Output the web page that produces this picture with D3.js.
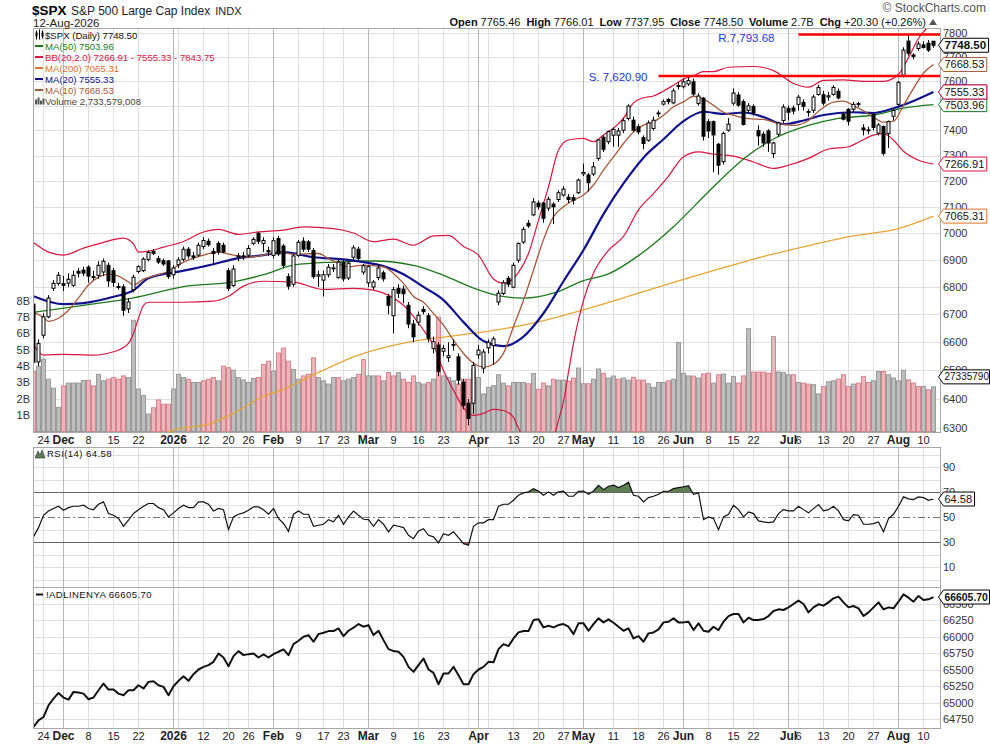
<!DOCTYPE html>
<html lang="en">
<head>
<meta charset="utf-8">
<title>$SPX Daily</title>
<script src="https://cdn.jsdelivr.net/npm/d3@7"></script>
<style>
  body { margin: 0; background: #fff; }
  svg { display: block; font-family: "Liberation Sans", Arial, sans-serif; }
  .vgrid { stroke: #e0e0e0; shape-rendering: crispEdges; }
  .vgrid.month { stroke: #b8b8b8; }
  .hgrid { stroke: #e0e0e0; shape-rendering: crispEdges; }
  .frame { fill: none; stroke: #a8a8a8; shape-rendering: crispEdges; }
  .axis-r { font-size: 11px; fill: #333; }
  .xlab { font-size: 11px; fill: #222; text-anchor: middle; }
  .xlab.bold { font-weight: bold; font-size: 12px; }
  .legend { font-size: 9.6px; }
</style>
</head>
<body>
<div id="chart"></div>
<script>
const W = 990, H = 744;

// trading calendar
const firstDay = "2025-11-20", lastDay = "2026-08-12";
const holidays = ["2025-11-27","2025-12-25","2026-01-01","2026-01-19","2026-02-16",
                  "2026-04-03","2026-05-25","2026-06-19","2026-07-03"];
const dates = [];
for (let d = new Date(firstDay + "T00:00:00Z"); d <= new Date(lastDay + "T00:00:00Z"); d.setUTCDate(d.getUTCDate() + 1)) {
  const s = d.toISOString().slice(0, 10), wd = d.getUTCDay();
  if (wd > 0 && wd < 6 && !holidays.includes(s)) dates.push(s);
}

const open = [6737,6530,6625,6691,6795,6813,6812,6814,6806,6858, 6862,6873,6838,6843,6855,6880,6860,6802,6800,6720,
  6790,6857,6860,6902,6932,6905,6897,6896,6845,6882, 6902,6940,6915,6918,6950,6970,6932,6962,6955,6860,
  6805,6912,6915,6918,6962,7000,6962,6935,6917,6980, 6952,6838,6810,6917,6970,6968,6935,6840,6825,6845,
  6870,6835,6890,6833,6910,6940,6855,6815,6800,6835, 6852,6765,6695,6795,6792,6733,6665,6672,6718,6695,
  6578,6590,6568,6545,6592,6548,6459,6386,6386,6555, 6508,6580,6588,6745,6776,6832,6799,6899,6967,7038,
  7070,7115,7115,7096,7111,7129,7146,7138,7136,7155, 7228,7224,7228,7289,7373,7355,7381,7381,7401,7448,
  7441,7415,7371,7361,7408,7470,7506,7525,7511,7582, 7577,7588,7597,7509,7530,7435,7435,7345,7276,7401,
  7510,7543,7516,7481,7497,7400,7385,7398,7308,7385, 7440,7489,7490,7505,7513,7476,7481,7545,7544,7535,
  7545,7558,7465,7485,7485,7506,7410,7400,7463,7389, 7416,7388,7457,7505,7624,7766,7708,7735,7750,7757,
  7765.46];
const high = [6766,6610,6704,6770,6825,6855,6840,6850,6860,6870, 6875,6880,6860,6895,6905,6890,6870,6815,6810,6760,
  6845,6880,6910,6935,6940,6915,6905,6900,6880,6910, 6950,6948,6930,6965,6985,6980,6945,6970,6965,6870,
  6880,6925,6930,6955,6985,7005,6985,6950,6985,6990, 6960,6850,6920,6975,6985,6975,6945,6860,6860,6885,
  6885,6900,6900,6895,6955,6950,6885,6880,6825,6880, 6860,6775,6800,6810,6805,6745,6680,6710,6730,6705,
  6620,6600,6590,6600,6610,6560,6470,6400,6530,6590, 6575,6610,6620,6788,6825,6840,6890,6965,7025,7050,
  7135,7125,7120,7140,7118,7165,7180,7150,7148,7210, 7268,7232,7275,7365,7380,7400,7412,7410,7450,7505,
  7455,7425,7380,7440,7455,7480,7525,7530,7570,7595, 7610,7615,7610,7550,7535,7445,7440,7350,7395,7450,
  7570,7555,7525,7510,7505,7420,7395,7405,7355,7435, 7505,7500,7500,7543,7525,7485,7545,7585,7560,7555,
  7583,7570,7475,7490,7515,7515,7425,7415,7470,7430, 7420,7440,7490,7600,7740,7792,7715,7765,7765,7770,
  7766.01];
const low = [6522,6515,6614,6686,6785,6805,6785,6800,6800,6835, 6840,6815,6825,6830,6840,6800,6800,6790,6695,6705,
  6780,6850,6855,6895,6918,6885,6878,6830,6830,6870, 6895,6905,6900,6912,6940,6950,6885,6920,6925,6785,
  6800,6895,6900,6910,6955,6960,6930,6915,6905,6915, 6870,6790,6800,6910,6930,6930,6830,6800,6765,6835,
  6855,6830,6820,6825,6900,6895,6845,6800,6790,6825, 6820,6700,6632,6760,6740,6650,6600,6660,6700,6600,
  6560,6480,6550,6530,6570,6450,6365,6310,6350,6540, 6490,6560,6520,6733,6770,6800,6795,6890,6960,7020,
  7065,7090,7040,7085,7035,7120,7140,7115,7110,7150, 7220,7160,7220,7280,7315,7345,7335,7335,7390,7440,
  7395,7385,7325,7355,7400,7455,7500,7505,7505,7565, 7570,7580,7540,7500,7360,7370,7235,7225,7265,7395,
  7500,7495,7420,7470,7460,7340,7335,7315,7290,7375, 7430,7440,7465,7480,7480,7455,7470,7540,7500,7520,
  7540,7525,7440,7420,7475,7495,7380,7385,7400,7380, 7300,7330,7440,7500,7615,7705,7690,7725,7735,7720,
  7737.95];
const close = [6529,6595,6691,6759,6813,6843,6806,6828,6843,6851, 6851,6840,6836,6880,6895,6822,6816,6798,6715,6745,
  6836,6875,6903,6928,6924,6892,6885,6838,6870,6900, 6940,6915,6910,6955,6973,6957,6924,6930,6930,6795,
  6866,6915,6912,6943,6977,6970,6973,6930,6972,6922, 6880,6803,6915,6966,6940,6940,6838,6845,6845,6873,
  6868,6892,6830,6888,6945,6905,6878,6875,6818,6870, 6830,6733,6790,6777,6775,6665,6619,6697,6710,6614,
  6602,6497,6578,6552,6590,6466,6379,6334,6518,6572, 6565,6600,6612,6777,6815,6810,6880,6962,7015,7028,
  7120,7101,7057,7130,7101,7155,7169,7129,7126,7204, 7234,7194,7256,7362,7325,7395,7404,7398,7439,7498,
  7401,7394,7348,7430,7441,7468,7516,7516,7560,7578, 7597,7602,7547,7539,7377,7398,7382,7262,7388,7425,
  7551,7502,7424,7499,7470,7378,7350,7350,7350,7430, 7494,7473,7478,7534,7497,7474,7535,7574,7510,7540,
  7574,7531,7445,7437,7505,7508,7402,7402,7412,7422, 7309,7435,7480,7595,7728,7715,7702,7754,7739,7728.20,
  7748.50];

// volume in billions of shares, and bar colour (r = down day, g = up day)
const volume = [3.67,3.98,4.43,3.2,2.65,1.48,2.79,2.96,2.96,2.96, 3.12,3.12,2.79,3.5,3.1,3.2,3.3,3.2,3.4,3.3,
  6.8,2.6,2.2,1.07,1.45,1.93,1.67,1.67,2.6,3.5, 3.3,3.2,3.0,3.0,3.1,3.2,3.3,3.1,4.0,3.9,
  3.75,3.3,3.15,3.0,3.25,3.3,4.1,4.3,3.7,4.8, 5.1,4.3,3.8,3.2,3.4,3.5,4.5,3.3,3.1,2.9,
  3.3,3.3,3.1,3.2,3.3,3.5,4.4,3.4,3.4,3.4, 3.1,3.6,3.4,3.6,3.2,3.0,3.4,3.0,2.9,3.0,
  3.2,7.0,3.4,3.3,3.1,2.9,3.2,3.2,3.8,3.3, 2.3,2.7,2.8,3.47,2.96,2.79,3.0,3.0,3.0,2.92,
  3.54,2.58,2.96,2.79,3.2,3.14,3.14,3.08,3.27,3.88, 2.92,2.92,3.2,3.82,3.56,3.27,3.39,3.2,3.27,3.14,
  3.31,3.14,3.14,2.92,2.7,3.0,3.0,3.1,3.2,5.44, 3.56,3.4,3.39,3.27,3.52,3.57,2.96,3.47,3.51,2.96,
  3.37,2.96,3.4,6.29,3.63,3.63,3.63,3.57,5.8,3.65, 3.6,3.47,3.47,3.0,2.96,2.9,2.86,2.3,2.75,3.04,
  3.1,3.2,3.47,2.75,2.9,2.96,3.37,3.0,3.1,3.67, 3.67,3.47,3.27,3.1,3.75,3.16,2.96,2.75,2.75,2.55,
  2.73];
const volColor = ("rgggggrggg" + "grrggrrrrg" + "ggggrrrrgg" + "grggrrrgrr" + "gggggrrrgr" +
  "rrggrrrggg" + "grgggrrggr" + "grrgrrrggr" + "grgggrrrgg" + "gggggrgggr" +
  "grrgrggrrg" + "grggrggrgg" + "rrrggggrgg" + "ggrgrrgrgg" + "grrgrrrrrg" +
  "ggrgrrggrg" + "grrrgrrrgg" + "rggggrrrgr" + "g").split("");
const lastVolume = 2733579008;

const rsi = [34.3,41.7,51.6,55,57,58.8,55.6,57.7,58.8,58.8, 59.6,57,56,60.4,62.3,53,51.6,49,42.8,47.6,
  53,56,58.8,61,61,57.7,56,50.3,53.5,57, 59.6,57.7,57.7,62.3,62.3,60.4,55,57,56,40.1,
  50.3,52.4,53.5,55.6,58.3,58.3,56,52.4,57,49, 45,38.8,52.4,55,52.4,52.4,42.8,43.6,44.4,48.1,
  46.3,51.6,44.4,50.3,55,51.6,48.4,48.1,42.8,48.1, 44.4,38.3,43.6,42.8,41.7,35.6,32.9,39.1,40.9,35.6,
  34.3,29.5,36.9,35.6,38.3,33.7,28.9,27.6,42.8,45.5, 45.5,48.1,48.1,58.8,60.4,60.4,63.6,67.6,69.5,70.3,
  72.9,71,67.6,70.3,67.6,70.3,70.8,66.8,66.8,70.8, 71,68.4,71,75.6,72.1,74.8,75.6,73.7,75.6,78,
  67.6,66.8,62.3,65.7,66.8,68.4,70.8,70.8,72.9,73.7, 74.3,75.3,68.4,69.5,48.1,50.3,48.9,40.1,50.3,52.4,
  59.6,56.1,50.3,54.3,52.9,47.1,46.3,45.7,46.3,52.9, 56.1,55.1,55.1,58.8,56.1,53.5,56.9,60.1,55.1,56.1,
  58.8,55.1,48.1,47.1,52.1,51.6,44.4,44.4,44.9,46.3, 38.3,48.9,52.4,58.8,66.3,64.7,64.1,66.3,65.7,63.6,
  64.58];

const adl = [64633,64735,64785,64963,65064,65150,65080,65049,65166,65156, 65140,65054,65080,65191,65293,65201,65201,65140,65115,65191,
  65191,65267,65217,65318,65328,65267,65242,65115,65252,65333, 65404,65333,65435,65506,65546,65572,65622,65749,65688,65556,
  65709,65785,65724,65739,65749,65688,65734,65688,65739,65775, 65810,65724,65891,65942,66003,66028,65927,66043,66064,66089,
  66089,66130,66013,66094,66140,66196,66155,66180,66028,66094, 65952,65815,65785,65775,65698,65546,65470,65572,65673,65506,
  65455,65282,65445,65445,65546,65419,65282,65282,65435,65506, 65546,65622,65615,65815,65891,65861,65977,66069,66089,66089,
  66256,66267,66145,66170,66145,66180,66196,66155,66043,66206, 66206,66094,66196,66282,66221,66267,66216,66155,66094,66130,
  65977,66013,65927,66054,66069,66114,66221,66231,66282,66221, 66221,66231,66104,66206,66094,66079,66155,66104,66231,66317,
  66348,66348,66221,66292,66256,66256,66272,66317,66393,66419, 66409,66449,66500,66551,66500,66373,66449,66495,66475,66525,
  66586,66612,66525,66449,66470,66434,66317,66373,66449,66525, 66419,66449,66434,66535,66647,66596,66535,66622,66561,66571,
  66605.70];

// overlays read at [trading-day index, value]
const ma10 = [[0,6707],[2,6689],[3,6675],[5,6686],[7,6715],[9,6760],[11,6807],[13,6836],[15,6847],[17,6840],[19,6818],[20,6807],
  [22,6829],[24,6840],[27,6858],[30,6892],[34,6918],[37,6929],[40,6918],[43,6910],[46,6918],[49,6929],[52,6921],[57,6924],
  [59,6905],[61,6887],[63,6874],[66,6881],[70,6874],[72,6850],[74,6813],[76,6765],[78,6744],[80,6703],[82,6661],[84,6607],
  [86,6560],[88,6526],[90,6512],[92,6522],[94,6561],[96,6656],[98,6751],[100,6862],[102,6976],[104,7063],[106,7101],[108,7127],
  [110,7146],[112,7185],[114,7243],[116,7295],[118,7348],[120,7394],[122,7421],[124,7434],[126,7461],[128,7495],[130,7515],
  [132,7538],[134,7526],[136,7501],[138,7473],[140,7461],[143,7447],[146,7444],[149,7427],[152,7420],[155,7440],[157,7477],
  [160,7514],[162,7518],[164,7500],[166,7479],[168,7453],[170,7433],[172,7437],[174,7501],[176,7570],[178,7633],[180,7668.53]];
const ma20 = [[0,6766],[6,6737],[10,6741],[16,6764],[20,6788],[23,6832],[30,6860],[36,6884],[40,6903],[46,6918],[50,6929],
  [56,6910],[62,6902],[66,6892],[70,6877],[74,6847],[78,6800],[82,6752],[86,6672],[90,6604],[94,6586],[98,6620],[102,6704],
  [106,6821],[110,6937],[114,7073],[118,7191],[122,7292],[126,7365],[130,7437],[134,7475],[138,7466],[142,7472],[146,7454],
  [150,7425],[154,7440],[158,7462],[164,7473],[168,7470],[172,7489],[176,7519],[180,7555.33]];
const ma50 = [[0,6707],[10,6733],[20,6760],[30,6801],[40,6819],[46,6845],[52,6881],[60,6892],[68,6896],[76,6880],[82,6843],
  [88,6796],[93,6768],[98,6759],[104,6777],[110,6823],[115,6848],[121,6916],[128,7025],[135,7159],[142,7287],[148,7366],
  [155,7420],[161,7448],[168,7462],[174,7490],[180,7503.96]];
const ma200 = [[22,6245],[28,6294],[35,6314],[40,6351],[46,6410],[50,6434],[55,6476],[65,6554],[75,6600],[85,6625],[93,6645],
  [101,6673],[111,6722],[121,6777],[131,6833],[138,6871],[144,6903],[154,6949],[164,6990],[173,7018],[180,7065.31]];
const bbUpper = [[0,6965],[3,6929],[6,6918],[10,6944],[14,6966],[18,6982],[20,6960],[21,6929],[23,6933],[26,6948],[30,6969],
  [34,7005],[37,7015],[41,6996],[45,7005],[50,7012],[54,7024],[60,7018],[64,7001],[68,6968],[72,6978],[76,6955],[80,6990],
  [83,6992],[86,6950],[89,6918],[92,6829],[94,6814],[97,6854],[99,6924],[101,7050],[103,7178],[105,7322],[107,7362],[110,7368],
  [112,7355],[114,7382],[116,7409],[118,7449],[120,7511],[122,7532],[124,7539],[126,7559],[128,7583],[130,7608],[132,7622],
  [134,7639],[136,7639],[139,7657],[144,7660],[148,7643],[152,7590],[155,7575],[158,7603],[162,7605],[166,7599],[170,7599],
  [173,7628],[175,7697],[177,7778],[180,7843.75]];
const bbLower = [[0,6589],[2,6554],[6,6557],[12,6554],[16,6566],[17,6572],[19,6596],[20,6632],[21,6686],[22,6733],[23,6744],
  [30,6744],[36,6748],[39,6766],[42,6803],[46,6821],[52,6818],[58,6791],[64,6795],[68,6788],[72,6759],[74,6733],[76,6693],
  [78,6643],[80,6589],[82,6500],[84,6431],[86,6370],[88,6344],[90,6351],[92,6365],[94,6361],[96,6337],[97,6300],[98,6270],
  [100,6220],[102,6200],[103,6215],[104,6265],[105,6327],[106,6392],[107,6494],[108,6596],[110,6751],[112,6851],[115,6936],
  [118,6988],[121,7089],[124,7152],[127,7220],[130,7296],[133,7315],[136,7306],[140,7298],[144,7275],[148,7250],[151,7262],
  [155,7289],[159,7326],[163,7335],[165,7353],[168,7381],[170,7387],[172,7361],[174,7317],[177,7282],[180,7266.91]];

const srLevels = [
  { label: "S. 7,620.90", value: 7620.90, from: "2026-05-22" },
  { label: "R.7,793.68", value: 7793.68, from: "2026-07-06" }
];

const tickLabels = [
  ["2025-11-24","24"],["2025-12-01","Dec"],["2025-12-08","8"],["2025-12-15","15"],["2025-12-22","22"],
  ["2026-01-02","2026"],["2026-01-12","12"],["2026-01-20","20"],["2026-01-26","26"],
  ["2026-02-02","Feb"],["2026-02-09","9"],["2026-02-17","17"],["2026-02-23","23"],
  ["2026-03-02","Mar"],["2026-03-09","9"],["2026-03-16","16"],["2026-03-23","23"],
  ["2026-04-01","Apr"],["2026-04-13","13"],["2026-04-20","20"],["2026-04-27","27"],
  ["2026-05-01","May"],["2026-05-11","11"],["2026-05-18","18"],["2026-05-26","26"],
  ["2026-06-01","Jun"],["2026-06-08","8"],["2026-06-15","15"],["2026-06-22","22"],
  ["2026-07-01","Jul"],["2026-07-06","6"],["2026-07-13","13"],["2026-07-20","20"],["2026-07-27","27"],
  ["2026-08-03","Aug"],["2026-08-10","10"]];
const extraWeekLines = ["2026-01-05","2026-03-30","2026-04-06"];
const monthStarts = ["2025-12-01","2026-01-02","2026-02-02","2026-03-02","2026-04-01",
                     "2026-05-01","2026-06-01","2026-07-01","2026-08-03"];

const priceTicks = d3.range(6300, 7801, 100);
const volTicks = [1,2,3,4,5,6,7,8];
const rsiTicks = [10,30,50,70,90];
const adlTicks = d3.range(64750, 66501, 250);

// ---------------------------------------------------------------
const svg = d3.select("#chart").append("svg").attr("width", W).attr("height", H);
const L = 33, R = 940;
const panels = { main: [28, 432], rsi: [447, 587], adl: [587, 728] };

const x = d3.scalePoint().domain(dates).range([33.5, 933.5]);
const xi = i => x(dates[0]) + i * x.step();
const y = d3.scaleLog().domain([6300, 7800]).range([428.3, 33]);
const yVol = d3.scaleLinear().domain([0, 8]).range([431.5, 300.7]);
const yRsi = d3.scaleLinear().domain([-5.8, 106.2]).range([587, 447]);
const yAdl = d3.scaleLinear().domain([64618, 66758]).range([728, 587]);

const defs = svg.append("defs");
Object.entries(panels).forEach(([k, [t, b]]) => {
  defs.append("clipPath").attr("id", "clip-" + k)
    .append("rect").attr("x", L).attr("y", t).attr("width", R - L).attr("height", b - t);
});

const gridDates = tickLabels.map(d => d[0]).concat(extraWeekLines)
  .sort((a, b) => monthStarts.includes(a) - monthStarts.includes(b));

function vGrid(t, b) {
  svg.append("g").selectAll("line").data(gridDates).join("line")
    .attr("class", d => monthStarts.includes(d) ? "vgrid month" : "vgrid")
    .attr("x1", d => x(d)).attr("x2", d => x(d))
    .attr("y1", t).attr("y2", b);
}
function hGrid(vals, scale) {
  svg.append("g").selectAll("line").data(vals).join("line")
    .attr("class", "hgrid")
    .attr("x1", L).attr("x2", R)
    .attr("y1", d => Math.round(scale(d)) + 0.5).attr("y2", d => Math.round(scale(d)) + 0.5);
}
// labels hidden entirely behind a value tag are left out, as on the original
function rightLabels(vals, scale, fmt, hidden) {
  svg.append("g").selectAll("text").data(vals.filter(v => !(hidden || []).includes(v))).join("text")
    .attr("class", "axis-r").attr("x", 943).attr("y", d => scale(d)).attr("dy", "0.35em")
    .text(fmt);
}
function tag(yPos, text, color, bold, size) {
  const g = svg.append("g");
  const t = g.append("text").attr("x", 944.5).attr("y", yPos).attr("dy", "0.36em")
    .attr("font-size", size || (bold ? 11.5 : 11)).attr("font-weight", bold ? "bold" : "normal")
    .attr("fill", "#111").text(text);
  const w = t.node().getComputedTextLength();
  const right = Math.min(989.5, 947 + w);
  g.insert("path", "text")
    .attr("d", `M938.5,${yPos} L943.5,${yPos - 7} L${right},${yPos - 7} L${right},${yPos + 7} L943.5,${yPos + 7} Z`)
    .attr("fill", "#fff").attr("stroke", color).attr("stroke-width", 1);
}

// ---------- main panel ----------
hGrid(priceTicks, y);
vGrid(...panels.main);

const gMain = svg.append("g").attr("clip-path", "url(#clip-main)");

gMain.append("g").selectAll("rect").data(volume).join("rect")
  .attr("x", (d, i) => xi(i) - 2).attr("width", 4)
  .attr("y", d => yVol(d)).attr("height", d => yVol(0) - yVol(d))
  .attr("fill", (d, i) => volColor[i] === "r" ? "#eab6bc" : "#bebebe")
  .attr("stroke", (d, i) => volColor[i] === "r" ? "#d8848f" : "#9a9a9a")
  .attr("stroke-width", 1);

const ov = d3.line().x(d => xi(d[0])).y(d => y(d[1])).curve(d3.curveMonotoneX);
const overlays = [
  [ma200, "#e8a534", 1.3],
  [bbUpper, "#d9163f", 1.2],
  [bbLower, "#d9163f", 1.2],
  [ma50, "#1c7a1c", 1.3],
  [ma20, "#12128f", 2.2],
  [ma10, "#a5583a", 1.3]
];
overlays.forEach(([data, color, w]) => {
  gMain.append("path").datum(data).attr("d", ov)
    .attr("fill", "none").attr("stroke", color).attr("stroke-width", w);
});

const idx = d3.range(dates.length);
gMain.append("g").selectAll("line").data(idx).join("line")
  .attr("x1", i => xi(i)).attr("x2", i => xi(i))
  .attr("y1", i => y(high[i])).attr("y2", i => y(low[i]))
  .attr("stroke", "#000").attr("stroke-width", 1);
gMain.append("g").selectAll("rect").data(idx).join("rect")
  .attr("x", i => xi(i) - 1.5).attr("width", 3)
  .attr("y", i => y(Math.max(open[i], close[i])))
  .attr("height", i => Math.max(0.8, Math.abs(y(open[i]) - y(close[i]))))
  .attr("fill", i => close[i] >= open[i] ? "#fff" : "#000")
  .attr("stroke", "#000").attr("stroke-width", 1);

// support / resistance
srLevels.forEach((s, k) => {
  gMain.append("line")
    .attr("x1", x(s.from)).attr("x2", R)
    .attr("y1", y(s.value)).attr("y2", y(s.value))
    .attr("stroke", "#f00").attr("stroke-width", 2.5);
  svg.append("text")
    .attr("x", x(s.from) - (k === 0 ? 11 : 24)).attr("y", y(s.value) + (k === 0 ? 1 : 3)).attr("dy", "0.35em")
    .attr("text-anchor", "end").attr("font-size", 11.5).attr("fill", "#2437d8")
    .text(s.label);
});

svg.append("rect").attr("class", "frame").attr("x", L + 0.5).attr("y", panels.main[0] + 0.5)
  .attr("width", R - L).attr("height", panels.main[1] - panels.main[0]);

// volume labels (left)
svg.append("g").selectAll("text").data(volTicks).join("text")
  .attr("x", 30).attr("y", d => yVol(d)).attr("dy", "0.35em").attr("text-anchor", "end")
  .attr("font-size", 11).attr("fill", "#333").text(d => d + "B");

rightLabels(priceTicks, y, d => d, [7500]);

// legend
const fmt2 = d3.format(".2f");
const last = a => a[a.length - 1][1];
const legendRows = [
  ["candle", "#000", `$SPX (Daily) ${fmt2(close[close.length - 1])}`],
  ["line", "#1c7a1c", `MA(50) ${fmt2(last(ma50))}`],
  ["line", "#d9163f", `BB(20,2.0) ${fmt2(last(bbLower))} - ${fmt2(last(ma20))} - ${fmt2(last(bbUpper))}`],
  ["line", "#e0702c", `MA(200) ${fmt2(last(ma200))}`],
  ["line", "#12128f", `MA(20) ${fmt2(last(ma20))}`],
  ["line", "#a5583a", `MA(10) ${fmt2(last(ma10))}`],
  ["bars", "#444", `Volume ${d3.format(",")(lastVolume)}`]
];
const lg = svg.append("g").attr("class", "legend");
legendRows.forEach(([icon, color, text], k) => {
  const by = 38.5 + k * 11;
  if (icon === "line") {
    lg.append("line").attr("x1", 35).attr("x2", 43).attr("y1", by - 3.5).attr("y2", by - 3.5)
      .attr("stroke", color).attr("stroke-width", 2);
  } else if (icon === "candle") {
    lg.append("path").attr("d", `M36.5,${by - 8} v9 M39.5,${by - 9} v10 M42.5,${by - 8} v8`)
      .attr("stroke", "#000").attr("stroke-width", 1);
    lg.append("rect").attr("x", 35.5).attr("y", by - 6).attr("width", 2).attr("height", 4).attr("fill", "#000");
    lg.append("rect").attr("x", 41.5).attr("y", by - 6).attr("width", 2).attr("height", 4).attr("fill", "#000");
  } else {
    [[35, 5], [37.5, 7], [40, 4], [42.5, 6]].forEach(([bx, h]) =>
      lg.append("rect").attr("x", bx).attr("y", by - h).attr("width", 2).attr("height", h).attr("fill", "#555"));
  }
  lg.append("text").attr("x", 45).attr("y", by).attr("fill", color === "#000" ? "#111" : color).text(text);
});

// value tags on the right
tag(y(last(ma200)), fmt2(last(ma200)), "#e0702c", false);
tag(y(last(bbLower)), fmt2(last(bbLower)), "#d9163f", false);
tag(y(last(ma50)), fmt2(last(ma50)), "#1c7a1c", false);
tag(y(last(ma20)), fmt2(last(ma20)), "#12128f", false);
tag(y(last(ma20)), fmt2(last(ma20)), "#d9163f", false);
tag(y(last(ma10)), fmt2(last(ma10)), "#a5583a", false);
tag(y(close[close.length - 1]), fmt2(close[close.length - 1]), "#000", true);
tag(yVol(volume[volume.length - 1]) - 10, String(lastVolume).slice(0, 8), "#000", false, 10);

// ---------- x labels ----------
function xLabels(yBase) {
  svg.append("g").selectAll("text").data(tickLabels).join("text")
    .attr("class", d => monthStarts.includes(d[0]) ? "xlab bold" : "xlab")
    .attr("x", d => x(d[0])).attr("y", yBase).text(d => d[1]);
}
xLabels(444);
xLabels(740);

// ---------- RSI panel ----------
hGrid(d3.range(0, 101, 10).filter(v => v !== 30 && v !== 50 && v !== 70), yRsi);
vGrid(...panels.rsi);
const gRsi = svg.append("g").attr("clip-path", "url(#clip-rsi)");

function thresholdPts(vals, thr, above) {
  const pts = [];
  vals.forEach((v, i) => {
    if (i > 0) {
      const p = vals[i - 1];
      if ((p - thr) * (v - thr) < 0) pts.push([i - 1 + (thr - p) / (v - p), thr]);
    }
    pts.push([i, above ? Math.max(v, thr) : Math.min(v, thr)]);
  });
  return pts;
}
gRsi.append("path").datum(thresholdPts(rsi, 70, true))
  .attr("d", d3.area().x(d => xi(d[0])).y0(yRsi(70)).y1(d => yRsi(d[1])))
  .attr("fill", "#5e7f52");
gRsi.append("path").datum(thresholdPts(rsi, 30, false))
  .attr("d", d3.area().x(d => xi(d[0])).y0(yRsi(30)).y1(d => yRsi(d[1])))
  .attr("fill", "#b0504a");
[70, 30].forEach(v => gRsi.append("line").attr("x1", L).attr("x2", R)
  .attr("y1", Math.round(yRsi(v)) + 0.5).attr("y2", Math.round(yRsi(v)) + 0.5)
  .attr("stroke", "#666").attr("shape-rendering", "crispEdges"));
gRsi.append("line").attr("x1", L).attr("x2", R)
  .attr("y1", Math.round(yRsi(50)) + 0.5).attr("y2", Math.round(yRsi(50)) + 0.5)
  .attr("stroke", "#777").attr("stroke-dasharray", "7,3,2,3").attr("shape-rendering", "crispEdges");
gRsi.append("path").datum(rsi)
  .attr("d", d3.line().x((d, i) => xi(i)).y(d => yRsi(d)))
  .attr("fill", "none").attr("stroke", "#111").attr("stroke-width", 1.2);
svg.append("rect").attr("class", "frame").attr("x", L + 0.5).attr("y", panels.rsi[0] + 0.5)
  .attr("width", R - L).attr("height", panels.rsi[1] - panels.rsi[0]);
rightLabels(rsiTicks, yRsi, d => d);
tag(yRsi(rsi[rsi.length - 1]), fmt2(rsi[rsi.length - 1]), "#000", false);
svg.append("path").attr("d", "M35,458 L38,451 L40,455 L42,450 L45,458 Z").attr("fill", "#5e7f52").attr("stroke", "#333").attr("stroke-width", 0.6);
svg.append("text").attr("class", "legend").attr("x", 47).attr("y", 457).attr("fill", "#111")
  .attr("letter-spacing", 0.4).text(`RSI(14) ${fmt2(rsi[rsi.length - 1])}`);

// ---------- ADL panel ----------
hGrid(adlTicks, yAdl);
vGrid(...panels.adl);
const gAdl = svg.append("g").attr("clip-path", "url(#clip-adl)");
gAdl.append("path").datum(adl)
  .attr("d", d3.line().x((d, i) => xi(i)).y(d => yAdl(d)))
  .attr("fill", "none").attr("stroke", "#111").attr("stroke-width", 2).attr("stroke-linejoin", "round");
svg.append("rect").attr("class", "frame").attr("x", L + 0.5).attr("y", panels.adl[0] + 0.5)
  .attr("width", R - L).attr("height", panels.adl[1] - panels.adl[0]);
rightLabels(adlTicks, yAdl, d => d);
tag(yAdl(adl[adl.length - 1]), fmt2(adl[adl.length - 1]), "#000", true, 10.4);
svg.append("line").attr("x1", 36).attr("x2", 43).attr("y1", 594.5).attr("y2", 594.5).attr("stroke", "#111").attr("stroke-width", 2);
svg.append("text").attr("class", "legend").attr("x", 46).attr("y", 598).attr("fill", "#111")
  .attr("letter-spacing", 0.4).text(`!ADLINENYA ${fmt2(adl[adl.length - 1])}`);

// ---------- header ----------
svg.append("text").attr("x", 32).attr("y", 15).attr("font-size", 13.5).attr("font-weight", "bold").text("$SPX");
svg.append("text").attr("x", 71).attr("y", 15).attr("font-size", 12).attr("fill", "#222")
  .text("S&P 500 Large Cap Index")
  .append("tspan").attr("dx", 5).attr("font-size", 11).text("INDX");
svg.append("text").attr("x", 33).attr("y", 26.5).attr("font-size", 11.5).attr("fill", "#222").text("12-Aug-2026");

const n = close.length - 1;
const chg = close[n] - close[n - 1];
const stats = [
  ["Open", fmt2(open[n])], ["High", fmt2(high[n])], ["Low", fmt2(low[n])], ["Close", fmt2(close[n])],
  ["Volume", d3.format(".2s")(lastVolume).replace("G", "B")],
  ["Chg", `+${fmt2(chg)} (+${fmt2(chg / close[n - 1] * 100)}%)`]
];
const st = svg.append("text").attr("x", 926).attr("y", 26).attr("text-anchor", "end").attr("font-size", 11).attr("fill", "#111");
stats.forEach(([k, v], j) => {
  st.append("tspan").attr("font-weight", "bold").attr("dx", j ? 6 : 0).text(k);
  st.append("tspan").attr("dx", 3).text(v);
});
svg.append("path").attr("d", "M929,25 L933,19 L937,25 Z").attr("fill", "#555");
svg.append("text").attr("x", 986).attr("y", 12).attr("text-anchor", "end").attr("font-size", 12).attr("fill", "#555")
  .text("\u00A9 StockCharts.com");
</script>
</body>
</html>
